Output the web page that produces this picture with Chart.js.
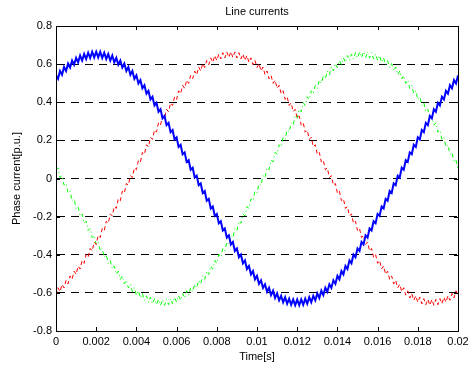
<!DOCTYPE html>
<html>
<head>
<meta charset="utf-8">
<script src="https://cdn.jsdelivr.net/npm/chart.js@4.4.1/dist/chart.umd.min.js"></script>
<style>
	body { margin: 0; background: #fff; }
	canvas { display: block; }
</style>
</head>
<body>
<canvas id="currentsChart" width="473" height="372"></canvas>
<script>
// phase currents, one sample every 0.1 ms (0 .. 0.02 s)
const phaseA = [
	0.541, 0.523, 0.564, 0.544, 0.585, 0.564, 0.603, 0.582, 0.619, 0.597, 0.633, 0.609, 0.645, 0.619, 0.653, 0.627, 0.660, 0.632, 0.664, 0.635, 0.665,
	0.635, 0.664, 0.632, 0.660, 0.627, 0.653, 0.619, 0.645, 0.609, 0.633, 0.597, 0.619, 0.582, 0.603, 0.564, 0.585, 0.544, 0.564, 0.523, 0.541,
	0.499, 0.516, 0.473, 0.489, 0.445, 0.460, 0.415, 0.429, 0.383, 0.397, 0.350, 0.363, 0.316, 0.328, 0.280, 0.292, 0.243, 0.254, 0.205, 0.216, 0.166, 0.177, 0.127, 0.137, 0.087, 0.096, 0.046, 0.056, 0.005, 0.015,
	-0.035, -0.026, -0.076, -0.066, -0.117, -0.107, -0.157, -0.147, -0.196, -0.186, -0.235, -0.224, -0.273, -0.262, -0.310, -0.298, -0.346, -0.333, -0.380, -0.367, -0.413, -0.399, -0.445, -0.430, -0.475, -0.459, -0.503, -0.486, -0.529, -0.511,
	-0.553, -0.534, -0.574, -0.555, -0.594, -0.573, -0.612, -0.589, -0.627, -0.603, -0.639, -0.615, -0.649, -0.623, -0.657, -0.630, -0.662, -0.634, -0.665, -0.635,
	-0.665, -0.634, -0.662, -0.630, -0.657, -0.623, -0.649, -0.615, -0.639, -0.603, -0.627, -0.589, -0.612, -0.573, -0.594, -0.555, -0.574, -0.534, -0.553, -0.511,
	-0.529, -0.486, -0.503, -0.459, -0.475, -0.430, -0.445, -0.399, -0.413, -0.367, -0.380, -0.333, -0.346, -0.298, -0.310, -0.262, -0.273, -0.224, -0.235, -0.186, -0.196, -0.147, -0.157, -0.107, -0.117, -0.066, -0.076, -0.026, -0.035, 0.015,
	0.005, 0.056, 0.046, 0.096, 0.087, 0.137, 0.127, 0.177, 0.166, 0.216, 0.205, 0.254, 0.243, 0.292, 0.280, 0.328, 0.316, 0.363, 0.350, 0.397, 0.383, 0.429, 0.415, 0.460, 0.445, 0.489, 0.473, 0.516, 0.499, 0.541,
];

const phaseB = [
	-0.612, -0.573, -0.594, -0.555, -0.574, -0.534, -0.553, -0.511, -0.529, -0.486, -0.503, -0.459, -0.475, -0.430, -0.445, -0.399, -0.413, -0.367, -0.380, -0.333, -0.346, -0.298, -0.310, -0.262, -0.273, -0.224, -0.235, -0.186, -0.196, -0.147, -0.157,
	-0.107, -0.117, -0.066, -0.076, -0.026, -0.035, 0.015, 0.005, 0.056, 0.046, 0.096, 0.087, 0.137, 0.127, 0.177, 0.166, 0.216, 0.205, 0.254, 0.243, 0.292, 0.280, 0.328, 0.316, 0.363, 0.350, 0.397, 0.383, 0.429, 0.415,
	0.460, 0.445, 0.489, 0.473, 0.516, 0.499, 0.541, 0.523, 0.564, 0.544, 0.585, 0.564, 0.603, 0.582, 0.619, 0.597, 0.633, 0.609, 0.645, 0.619, 0.653, 0.627, 0.660, 0.632, 0.664, 0.635, 0.665,
	0.635, 0.664, 0.632, 0.660, 0.627, 0.653, 0.619, 0.645, 0.609, 0.633, 0.597, 0.619, 0.582, 0.603, 0.564, 0.585, 0.544, 0.564, 0.523, 0.541, 0.499, 0.516, 0.473, 0.489, 0.445, 0.460,
	0.415, 0.429, 0.383, 0.397, 0.350, 0.363, 0.316, 0.328, 0.280, 0.292, 0.243, 0.254, 0.205, 0.216, 0.166, 0.177, 0.127, 0.137, 0.087, 0.096, 0.046, 0.056, 0.005, 0.015, -0.035, -0.026, -0.076, -0.066, -0.117, -0.107,
	-0.157, -0.147, -0.196, -0.186, -0.235, -0.224, -0.273, -0.262, -0.310, -0.298, -0.346, -0.333, -0.380, -0.367, -0.413, -0.399, -0.445, -0.430, -0.475, -0.459, -0.503, -0.486, -0.529, -0.511, -0.553, -0.534, -0.574, -0.555, -0.594, -0.573, -0.612,
	-0.589, -0.627, -0.603, -0.639, -0.615, -0.649, -0.623, -0.657, -0.630, -0.662, -0.634, -0.665, -0.635, -0.665, -0.634, -0.662, -0.630, -0.657, -0.623, -0.649, -0.615, -0.639, -0.603, -0.627, -0.589, -0.612,
];

const phaseC = [
	0.046, 0.056, 0.005, 0.015, -0.035, -0.026, -0.076, -0.066, -0.117, -0.107, -0.157, -0.147, -0.196, -0.186, -0.235, -0.224, -0.273, -0.262, -0.310, -0.298, -0.346, -0.333, -0.380, -0.367, -0.413, -0.399, -0.445, -0.430, -0.475, -0.459,
	-0.503, -0.486, -0.529, -0.511, -0.553, -0.534, -0.574, -0.555, -0.594, -0.573, -0.612, -0.589, -0.627, -0.603, -0.639, -0.615, -0.649, -0.623, -0.657, -0.630, -0.662, -0.634, -0.665, -0.635,
	-0.665, -0.634, -0.662, -0.630, -0.657, -0.623, -0.649, -0.615, -0.639, -0.603, -0.627, -0.589, -0.612, -0.573, -0.594, -0.555, -0.574, -0.534, -0.553, -0.511, -0.529, -0.486, -0.503, -0.459, -0.475, -0.430,
	-0.445, -0.399, -0.413, -0.367, -0.380, -0.333, -0.346, -0.298, -0.310, -0.262, -0.273, -0.224, -0.235, -0.186, -0.196, -0.147, -0.157, -0.107, -0.117, -0.066, -0.076, -0.026, -0.035, 0.015, 0.005, 0.056, 0.046,
	0.096, 0.087, 0.137, 0.127, 0.177, 0.166, 0.216, 0.205, 0.254, 0.243, 0.292, 0.280, 0.328, 0.316, 0.363, 0.350, 0.397, 0.383, 0.429, 0.415, 0.460, 0.445, 0.489, 0.473,
	0.516, 0.499, 0.541, 0.523, 0.564, 0.544, 0.585, 0.564, 0.603, 0.582, 0.619, 0.597, 0.633, 0.609, 0.645, 0.619, 0.653, 0.627, 0.660, 0.632, 0.664, 0.635, 0.665,
	0.635, 0.664, 0.632, 0.660, 0.627, 0.653, 0.619, 0.645, 0.609, 0.633, 0.597, 0.619, 0.582, 0.603, 0.564, 0.585, 0.544, 0.564, 0.523, 0.541, 0.499, 0.516, 0.473, 0.489,
	0.445, 0.460, 0.415, 0.429, 0.383, 0.397, 0.350, 0.363, 0.316, 0.328, 0.280, 0.292, 0.243, 0.254, 0.205, 0.216, 0.166, 0.177, 0.127, 0.137, 0.087, 0.096, 0.046,
];

const sampleStep = 0.0001;
const xTicks = [0, 0.002, 0.004, 0.006, 0.008, 0.01, 0.012, 0.014, 0.016, 0.018, 0.02];
const xTickLabels = ['0', '0.002', '0.004', '0.006', '0.008', '0.01', '0.012', '0.014', '0.016', '0.018', '0.02'];
const yTicks = [-0.8, -0.6, -0.4, -0.2, 0, 0.2, 0.4, 0.6, 0.8];
const yTickLabels = ['-0.8', '-0.6', '-0.4', '-0.2', '0', '0.2', '0.4', '0.6', '0.8'];

const time = phaseA.map((v, i) => +(i * sampleStep).toFixed(4));

const FONT = { family: "'Liberation Sans', Arial, sans-serif", size: 11 };

// matlab style box with ticks pointing inwards
const boxPlugin = {
	id: 'box',
	afterDraw(chart) {
		const { ctx, chartArea: a, scales } = chart;
		const len = 4;
		ctx.save();
		ctx.strokeStyle = '#000';
		ctx.lineWidth = 1;
		ctx.beginPath();
		scales.x.ticks.forEach((t) => {
			const x = Math.round(scales.x.getPixelForValue(t.value)) + 0.5;
			ctx.moveTo(x, a.bottom);
			ctx.lineTo(x, a.bottom - len);
			ctx.moveTo(x, a.top);
			ctx.lineTo(x, a.top + len);
		});
		scales.y.ticks.forEach((t) => {
			const y = Math.round(scales.y.getPixelForValue(t.value)) + 0.5;
			ctx.moveTo(a.left, y);
			ctx.lineTo(a.left + len, y);
			ctx.moveTo(a.right, y);
			ctx.lineTo(a.right - len, y);
		});
		ctx.stroke();
		ctx.strokeRect(Math.round(a.left) + 0.5, Math.round(a.top) + 0.5, Math.round(a.right - a.left), Math.round(a.bottom - a.top));
		ctx.restore();
	},
};

const makeSet = (label, data, color, width, dash) => ({
	label: label,
	data: data,
	borderColor: color,
	borderWidth: width,
	borderDash: dash,
	pointRadius: 0,
	tension: 0,
	fill: false,
});

const config = {
	type: 'line',
	data: {
		labels: time,
		datasets: [
			makeSet('Phase a', phaseA, '#0000ff', 2, []),
			makeSet('Phase b', phaseB, '#ff0000', 1, [4, 3]),
			makeSet('Phase c', phaseC, '#00ff00', 1, [4, 3, 1, 3]),
		],
	},
	options: {
		responsive: false,
		animation: false,
		devicePixelRatio: 1,
		layout: { padding: { left: 0, right: 15, top: 0, bottom: 0 } },
		plugins: {
			legend: { display: false },
			tooltip: { enabled: false },
			title: {
				display: true,
				text: 'Line currents',
				fullSize: false,
				color: '#000',
				font: { ...FONT, weight: 'normal' },
				padding: { top: 5, bottom: 7.8 },
			},
		},
		scales: {
			x: {
				type: 'linear',
				min: 0,
				max: 0.02,
				afterBuildTicks: (scale) => {
					scale.ticks = xTicks.map((v) => ({ value: v }));
				},
				afterFit: (scale) => {
					scale.height = 41;
				},
				grid: { display: false, drawTicks: false },
				border: { display: true, color: '#000', width: 1 },
				ticks: {
					color: '#000',
					font: FONT,
					padding: 4,
					maxRotation: 0,
					autoSkip: false,
					callback: (v, i) => xTickLabels[i],
				},
				title: {
					display: true,
					text: 'Time[s]',
					color: '#000',
					font: FONT,
					padding: { top: 0, bottom: 8 },
				},
			},
			y: {
				type: 'linear',
				min: -0.8,
				max: 0.8,
				afterBuildTicks: (scale) => {
					scale.ticks = yTicks.map((v) => ({ value: v }));
				},
				afterFit: (scale) => {
					scale.width = 56;
				},
				grid: {
					drawTicks: false,
					lineWidth: 1,
					color: (c) => (c.tick && Math.abs(c.tick.value) > 0.79 ? 'rgba(0,0,0,0)' : '#000'),
				},
				border: { display: true, color: '#000', width: 1, dash: [8, 6] },
				ticks: {
					color: '#000',
					font: FONT,
					padding: 4,
					autoSkip: false,
					callback: (v, i) => yTickLabels[i],
				},
				title: {
					display: true,
					text: 'Phase current[p.u.]',
					color: '#000',
					font: FONT,
					padding: { top: 10, bottom: 0 },
				},
			},
		},
	},
	plugins: [boxPlugin],
};

const ctx = document.getElementById('currentsChart').getContext('2d');
const myChart = new Chart(ctx, config);
</script>
</body>
</html>
